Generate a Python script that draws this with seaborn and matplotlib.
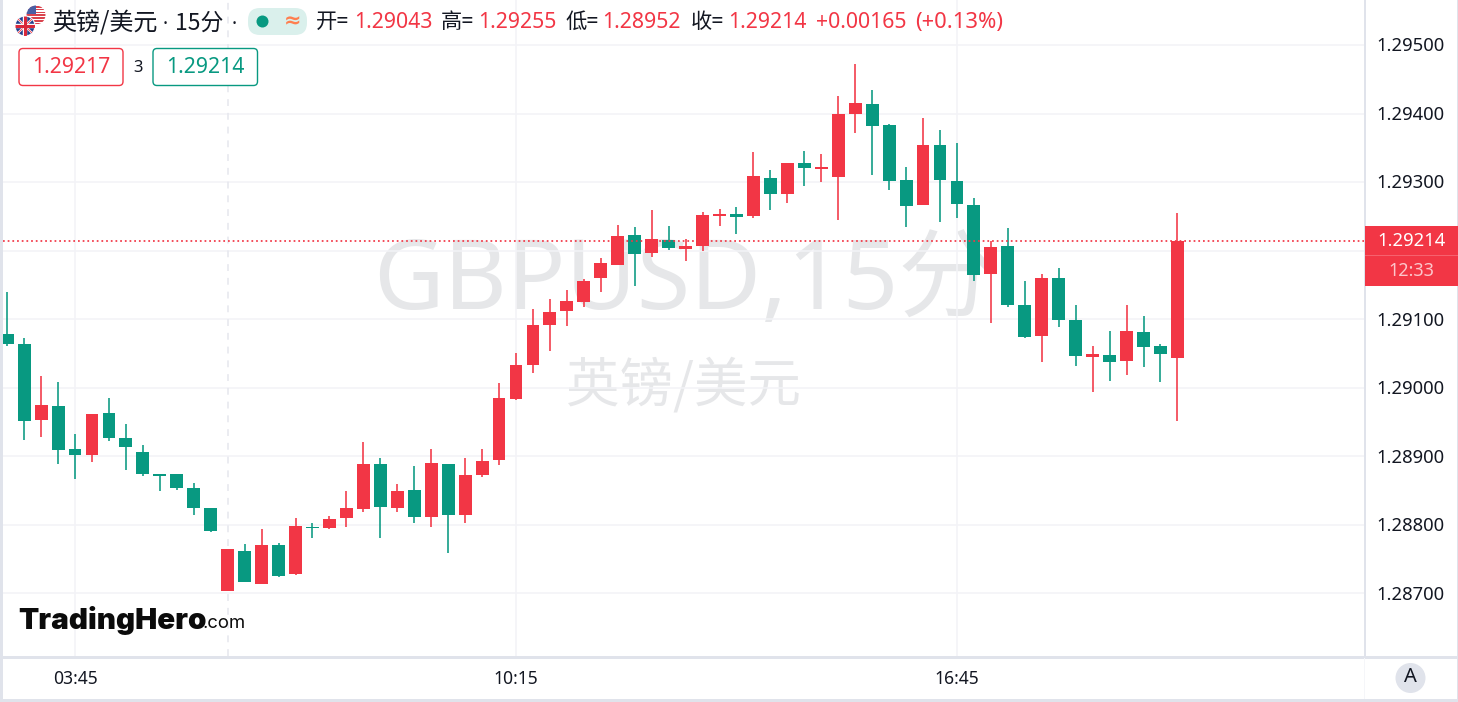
import numpy as np
import pandas as pd
import seaborn as sns
import matplotlib
matplotlib.use("Agg")
import matplotlib.pyplot as plt
from matplotlib.patches import Circle, FancyBboxPatch, Rectangle
from matplotlib.transforms import ScaledTranslation

# Prices in units of 0.00001
opens = [129078,129064,128953,128973,128911,128902,128963,128927,128906,128874,
         128874,128854,128825,128704,128762,128714,128771,128728,128797,128795,
         128810,128823,128889,128825,128851,128812,128889,128814,128873,128895,
         128984,129033,129092,129112,129125,129160,129179,129223,129197,129216,
         129202,129207,129251,129253,129251,129306,129283,129328,129319,129307,
         129399,129414,129383,129303,129267,129354,129302,129267,129166,129207,
         129121,129076,129160,129099,129045,129048,129039,129081,129061,129043]
highs = [129140,129073,129017,129008,128933,128962,128985,128947,128917,128874,
         128874,128861,128825,128765,128772,128794,128774,128810,128803,128813,
         128849,128921,128898,128860,128886,128911,128889,128898,128911,129007,
         129051,129115,129129,129143,129159,129189,129237,129235,129259,129236,
         129217,129256,129261,129264,129344,129318,129328,129345,129341,129426,
         129472,129434,129385,129322,129394,129376,129357,129277,129214,129233,
         129156,129166,129175,129121,129061,129083,129121,129105,129064,129255]
lows = [129061,128924,128928,128889,128867,128892,128922,128880,128871,128849,
        128851,128814,128790,128704,128717,128714,128724,128727,128781,128794,
        128797,128819,128781,128819,128803,128797,128759,128803,128870,128887,
        128982,129022,129054,129090,129118,129140,129179,129148,129191,129201,
        129185,129200,129236,129224,129248,129259,129270,129294,129300,129245,
        129372,129310,129288,129235,129267,129242,129248,129156,129095,129118,
        129073,129038,129089,129032,128994,129010,129019,129030,129008,128952]
closes = [129064,128952,128975,128909,128902,128962,128927,128914,128874,128871,
          128854,128825,128791,128765,128717,128771,128725,128798,128795,128809,
          128825,128889,128826,128849,128812,128890,128814,128873,128893,128985,
          129033,129092,129111,129127,129156,129182,129221,129195,129217,129204,
          129207,129252,129253,129249,129309,129283,129328,129321,129322,129399,
          129415,129382,129302,129265,129354,129303,129268,129165,129205,129121,
          129074,129160,129099,129046,129049,129038,129083,129060,129049,129214]
price_ticks = [1.287, 1.288, 1.289, 1.290, 1.291, 1.292, 1.293, 1.294, 1.295]
hidden_price_label = 1.292  # covered by the last-price tag
time_tick_bars = [4, 30, 56]
time_tick_labels = ["03:45", "10:15", "16:45"]
session_bar = 13
last_price = 1.29214

RED = "#F23645"
GREEN = "#089981"
GRID = "#F3F3F7"
BORDER = "#E0E3EB"
INK = "#131722"
W, H = 1458, 702

sns.set_theme(style="white", rc={"axes.facecolor": "white", "figure.facecolor": "white"})
plt.rcParams["font.family"] = ["Noto Sans CJK SC", "DejaVu Sans"]

df = pd.DataFrame({"bar": np.arange(len(opens)),
                   "open": np.array(opens) / 1e5, "high": np.array(highs) / 1e5,
                   "low": np.array(lows) / 1e5, "close": np.array(closes) / 1e5})
df["top"] = df[["open", "close"]].max(axis=1)
df["bottom"] = df[["open", "close"]].min(axis=1)
df["size"] = df["top"] - df["bottom"]
df["up"] = df["close"] > df["open"]

fig = plt.figure(figsize=(W / 100, H / 100), dpi=100)
ax = fig.add_axes([3 / W, (H - 656) / H, 1361 / W, 656 / H])

for is_up, colour in [(True, RED), (False, GREEN)]:
    part = df[df["up"] == is_up]
    ax.vlines(part["bar"], part["low"], part["high"], color=colour, lw=1.15, zorder=3)
    sns.barplot(data=part, x="bar", y="size", bottom=part["bottom"].values, native_scale=True,
                color=colour, saturation=1, width=0.76, errorbar=None, ax=ax, zorder=4,
                linewidth=0)

ax.set_xlim(-0.248, 80.0)
ax.set_ylim(1.286088, 1.295656)
ax.set_xlabel("")
ax.set_ylabel("")
ax.set_yticks(price_ticks)
ax.set_yticklabels(["" if p == hidden_price_label else f"{p:.5f}" for p in price_ticks])
ax.set_xticks(time_tick_bars)
ax.set_xticklabels(time_tick_labels)
ax.yaxis.tick_right()
ax.tick_params(axis="y", length=0, pad=8.8, labelsize=13.3, labelcolor=INK)
ax.tick_params(axis="x", length=0, pad=10.2, labelsize=12.6, labelcolor=INK)
for lab in ax.get_xticklabels() + ax.get_yticklabels():
    lab.set_family(["Noto Sans", "DejaVu Sans"])
nudge = ScaledTranslation(0, -1.3 / 100, fig.dpi_scale_trans)
for lab in ax.get_yticklabels():
    lab.set_verticalalignment("center")
    lab.set_transform(lab.get_transform() + nudge)
ax.grid(True, color=GRID, lw=1.1, zorder=0)
ax.set_axisbelow(True)
for s in ax.spines.values():
    s.set_visible(False)

ax.axvline(session_bar, color="#E6E7EE", lw=1.1, ls=(0, (4.5, 4.5)), zorder=1)
ax.axhline(last_price, color=RED, lw=1.25, ls=(0, (1, 1.7)), zorder=5)

# Overlay in pixel units for the chart furniture
ov = fig.add_axes([0, 0, 1, 1], zorder=-1)
ov.set_xlim(0, W)
ov.set_ylim(H, 0)
ov.axis("off")
ax.patch.set_alpha(0)
wm = "#E6E7E9"
ov.text(684, 284, "GBPUSD,15分", fontsize=70, color=wm, ha="center", va="center",
        family=["Noto Sans", "Noto Sans CJK SC"])
ov.text(684, 386, "英镑/美元", fontsize=38.5, color=wm, ha="center", va="center")

top = fig.add_axes([0, 0, 1, 1], zorder=10)
top.set_xlim(0, W)
top.set_ylim(H, 0)
top.axis("off")
top.patch.set_alpha(0)

# frame lines
for r in [(0, 0, 3, 700), (1364, 0, 2.5, 657), (3, 656, 1455, 2.5), (0, 699, W, 3), (1457, 0, 1, 700)]:
    top.add_patch(Rectangle((r[0], r[1]), r[2], r[3], fc=BORDER, ec="none"))
top.add_patch(Rectangle((1364, 658), 1, 41, fc="#F5F6F9", ec="none"))

# flags
us = Circle((36, 15), 9.5, fc="white", ec="none")
top.add_patch(us)
for yy in np.arange(6, 25, 2.8):
    s = top.add_patch(Rectangle((26, yy), 20, 1.5, fc="#D9434E", ec="none"))
    s.set_clip_path(us)
c = top.add_patch(Rectangle((26, 5), 10, 9, fc="#4A5FA5", ec="none"))
c.set_clip_path(us)
uk = Circle((25, 26), 10, fc="#23408F", ec="white", lw=0.8)
top.add_patch(uk)
for x0, y0, x1, y1, col, lw in [(15, 16, 35, 36, "white", 1.6), (15, 36, 35, 16, "white", 1.6),
                                (15, 16, 35, 36, RED, 0.6), (15, 36, 35, 16, RED, 0.6),
                                (15, 26, 35, 26, "white", 3.2), (25, 16, 25, 36, "white", 3.2),
                                (15, 26, 35, 26, "#D8273A", 2.2), (25, 16, 25, 36, "#D8273A", 2.2)]:
    l, = top.plot([x0, x1], [y0, y1], color=col, lw=lw, solid_capstyle="butt")
    l.set_clip_path(uk)

# header
top.text(52, 23.5, "英镑/美元", fontsize=17.3, color=INK, va="center", ha="left")
top.text(165, 25, "·", fontsize=14, color=INK, va="center", ha="center", family=["Noto Sans"], fontweight="bold")
top.text(175, 23.5, "15分", fontsize=16.5, color=INK, va="center", ha="left")
top.text(234, 25, "·", fontsize=14, color=INK, va="center", ha="center", family=["Noto Sans"], fontweight="bold")
top.add_patch(FancyBboxPatch((248, 8), 59, 27, boxstyle="round,pad=0,rounding_size=12",
                             fc="#DAF0EC", ec="none"))
top.add_patch(Circle((262.5, 21.5), 6, fc=GREEN, ec="none"))
top.text(293, 21.5, "≈", fontsize=15, color="#FF7F50", ha="center", va="center",
         family=["DejaVu Sans"], fontweight="bold")
for x, txt, col, fs in [(316, "开=", INK, 15.3), (354, "1.29043", RED, 15.3), (441, "高=", INK, 15.3),
                        (478, "1.29255", RED, 15.3), (565, "低=", INK, 15.3), (602, "1.28952", RED, 15.3),
                        (691, "收=", INK, 15.3), (728, "1.29214", RED, 15.3),
                        (816, "+0.00165", RED, 15.3), (915, "(+0.13%)", RED, 15.8)]:
    top.text(x, 22.5, txt, fontsize=fs, color=col, va="center", ha="left",
             family=["Noto Sans", "Noto Sans CJK SC"])

# bid / ask boxes
top.add_patch(FancyBboxPatch((19, 48.5), 104, 37, boxstyle="round,pad=0,rounding_size=4",
                             fc="white", ec=RED, lw=1))
top.text(71, 67.5, "1.29217", fontsize=15.3, color=RED, ha="center", va="center",
         family=["Noto Sans", "DejaVu Sans"])
top.text(138, 68, "3", fontsize=12, color=INK, ha="center", va="center",
         family=["Noto Sans", "DejaVu Sans"])
top.add_patch(FancyBboxPatch((153, 48.5), 104.5, 37, boxstyle="round,pad=0,rounding_size=4",
                             fc="white", ec=GREEN, lw=1))
top.text(205.5, 67.5, "1.29214", fontsize=15.3, color=GREEN, ha="center", va="center",
         family=["Noto Sans", "DejaVu Sans"])

# last price tag
top.add_patch(Rectangle((1365, 226), 93, 60, fc=RED, ec="none"))
top.add_patch(Rectangle((1365, 255), 93, 0.8, fc="#F6616E", ec="none"))
top.text(1411, 240.5, "1.29214", fontsize=13.3, color="white", ha="center", va="center",
         family=["Noto Sans", "DejaVu Sans"], fontweight="medium")
top.text(1411, 271, "12:33", fontsize=13, color="#FCC6CB", ha="center", va="center",
         family=["Noto Sans", "DejaVu Sans"])

# logo
top.text(18, 620.5, "TradingHero", fontsize=21.3, color="#0B0B0B", fontweight="black",
         ha="left", va="center", family=["Inter", "DejaVu Sans"])
top.text(203, 624, ".com", fontsize=13.3, color="#0B0B0B", ha="left", va="center",
         family=["Inter", "DejaVu Sans"])

# auto button
top.add_patch(Circle((1410.5, 678), 15, fc=BORDER, ec="none"))
top.text(1410.5, 677.5, "A", fontsize=14.5, color=INK, ha="center", va="center",
         family=["Noto Sans", "DejaVu Sans"])

fig.savefig("out.png", dpi=100)
